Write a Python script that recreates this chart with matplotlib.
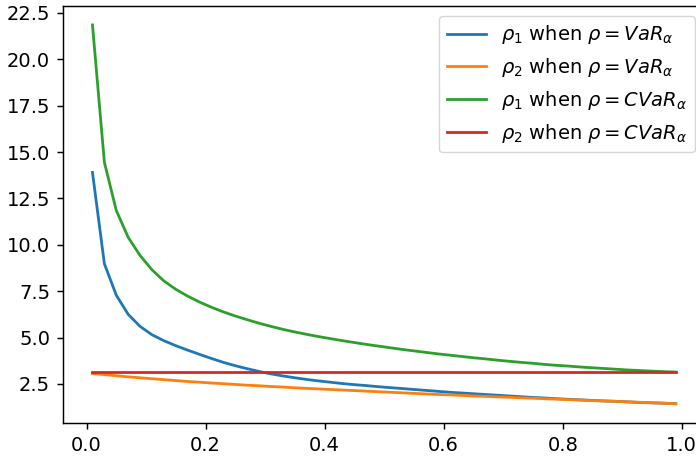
import matplotlib
matplotlib.use("Agg")
import matplotlib.pyplot as plt

alpha = [0.01, 0.03, 0.05, 0.07, 0.09, 0.11, 0.13, 0.15, 0.17, 0.19,
         0.21, 0.23, 0.25, 0.27, 0.29, 0.31, 0.33, 0.35, 0.37, 0.39,
         0.41, 0.43, 0.45, 0.47, 0.49, 0.51, 0.53, 0.55, 0.57, 0.59,
         0.61, 0.63, 0.65, 0.67, 0.69, 0.71, 0.73, 0.75, 0.77, 0.79,
         0.81, 0.83, 0.85, 0.87, 0.89, 0.91, 0.93, 0.95, 0.97, 0.99]

rho1_var = [13.90, 8.98, 7.28, 6.25, 5.60, 5.15, 4.83, 4.56, 4.32, 4.09,
            3.87, 3.66, 3.48, 3.32, 3.17, 3.04, 2.93, 2.83, 2.74, 2.66,
            2.59, 2.52, 2.46, 2.41, 2.35, 2.30, 2.25, 2.20, 2.15, 2.10,
            2.05, 2.01, 1.97, 1.93, 1.89, 1.85, 1.81, 1.77, 1.74, 1.70,
            1.67, 1.64, 1.61, 1.58, 1.56, 1.53, 1.50, 1.48, 1.46, 1.43]

rho2_var = [3.06, 3.00, 2.94, 2.88, 2.83, 2.78, 2.73, 2.68, 2.63, 2.59,
            2.55, 2.51, 2.47, 2.43, 2.40, 2.36, 2.33, 2.29, 2.26, 2.23,
            2.20, 2.17, 2.14, 2.11, 2.08, 2.05, 2.02, 1.99, 1.96, 1.93,
            1.91, 1.88, 1.85, 1.83, 1.80, 1.78, 1.75, 1.73, 1.70, 1.68,
            1.65, 1.63, 1.60, 1.58, 1.56, 1.53, 1.51, 1.48, 1.46, 1.43]

rho1_cvar = [21.85, 14.45, 11.85, 10.40, 9.42, 8.65, 8.05, 7.60, 7.23, 6.91,
             6.63, 6.38, 6.16, 5.96, 5.77, 5.60, 5.44, 5.30, 5.17, 5.05,
             4.94, 4.83, 4.73, 4.63, 4.54, 4.45, 4.36, 4.28, 4.20, 4.12,
             4.05, 3.98, 3.91, 3.85, 3.78, 3.72, 3.66, 3.61, 3.55, 3.50,
             3.46, 3.41, 3.37, 3.33, 3.29, 3.25, 3.22, 3.19, 3.16, 3.14]

rho2_cvar = [3.13] * 50

labels = [r'$\rho_1$ when $\rho = VaR_\alpha$',
          r'$\rho_2$ when $\rho = VaR_\alpha$',
          r'$\rho_1$ when $\rho = CVaR_\alpha$',
          r'$\rho_2$ when $\rho = CVaR_\alpha$']
colors = ['#1f77b4', '#ff7f0e', '#2ca02c', '#d62728']

fig = plt.figure(figsize=(6.96, 4.58), dpi=100)
ax = fig.add_axes([63.3 / 696, 1 - 422.7 / 458, (705 - 63.3) / 696, (422.7 - 6.0) / 458])

for ys, lab, c in zip([rho1_var, rho2_var, rho1_cvar, rho2_cvar], labels, colors):
    ax.plot(alpha, ys, color=c, lw=2.0, label=lab)

ax.set_yticks([2.5, 5.0, 7.5, 10.0, 12.5, 15.0, 17.5, 20.0, 22.5])
ax.set_xticks([0.0, 0.2, 0.4, 0.6, 0.8, 1.0])
ax.tick_params(labelsize=14, length=4.5, width=1.05, pad=4.9)
for s in ax.spines.values():
    s.set_linewidth(1.05)

ax.legend(loc='upper right', fontsize=14, handlelength=2.0)

fig.savefig('out.png', dpi=100)
